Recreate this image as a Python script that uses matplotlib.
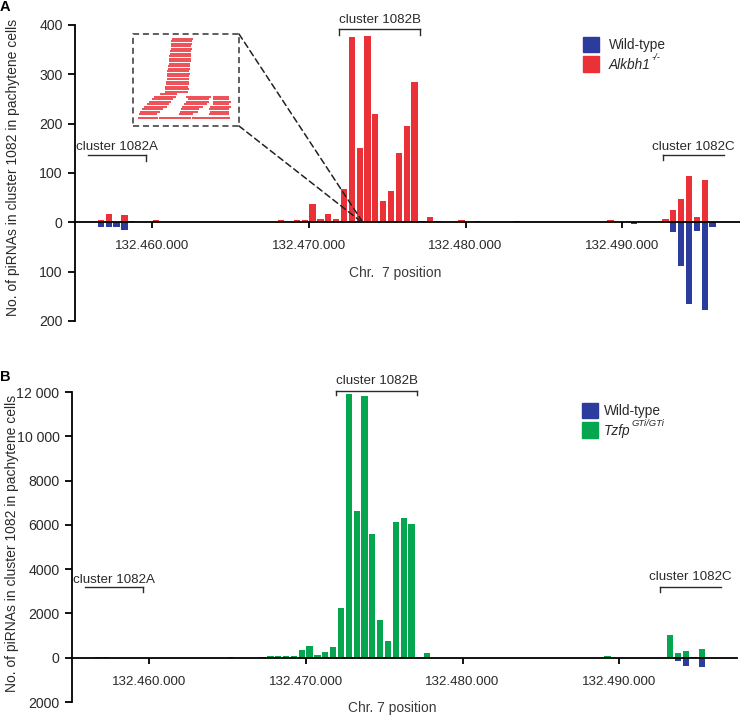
import matplotlib
matplotlib.use("Agg")
import matplotlib.pyplot as plt
from matplotlib.patches import Rectangle, ConnectionPatch

plt.rcParams['font.family'] = ['Liberation Sans', 'DejaVu Sans']

# ---------------- data ----------------
# Panel A: Alkbh1-/- (red, up) and wild-type (blue, down); bin centres in bp on chr 7
a_mut_pos = [132456750, 132457250, 132458250, 132458750, 132460250,
             132468250, 132469250, 132469750, 132470250, 132470750, 132471250,
             132471750, 132472250, 132472750, 132473250, 132473750, 132474250,
             132474750, 132475250, 132475750, 132476250, 132476750, 132477250,
             132477750, 132478250, 132479750, 132480750, 132481750, 132483250,
             132485250, 132486750, 132489250,
             132492750, 132493250, 132493750, 132494250, 132494750, 132495250]
a_mut_val = [5, 16, 14, 2, 5,
             4, 5, 5, 38, 7, 16,
             7, 68, 375, 151, 377, 219,
             44, 64, 140, 196, 284, 3,
             10, 2, 5, 3, 1, 2,
             1, 1, 5,
             7, 24, 48, 94, 11, 86]
a_wt_pos = [132456750, 132457250, 132457750, 132458250, 132490750,
            132493250, 132493750, 132494250, 132494750, 132495250, 132495750]
a_wt_val = [10, 10, 10, 16, 3,
            20, 88, 166, 17, 177, 9]

# Panel B: Tzfp GTi/GTi (green, up) and wild-type (blue, down)
b_mut_pos = [132456750, 132457250, 132465250,
             132467250, 132467750, 132468250, 132468750, 132469250, 132469750,
             132470250, 132470750, 132471250, 132471750, 132472250, 132472750,
             132473250, 132473750, 132474250, 132474750, 132475250, 132475750,
             132476250, 132476750, 132477750, 132489250,
             132493250, 132493750, 132494250, 132494750, 132495250]
b_mut_val = [20, 20, 30,
             50, 70, 80, 80, 100, 370,
             525, 130, 240, 465, 2240, 11930,
             6640, 11820, 5570, 1700, 750, 6140,
             6320, 6020, 226, 60,
             1020, 200, 300, 30, 376]
b_wt_pos = [132493750, 132494250, 132495250]
b_wt_val = [135, 376, 436]

xtick_pos = [132460000, 132470000, 132480000, 132490000]
xtick_labels = ['132.460.000', '132.470.000', '132.480.000', '132.490.000']
a_ytick_pos = [-200, -100, 0, 100, 200, 300, 400]
a_ytick_labels = ['200', '100', '0', '100', '200', '300', '400']
b_ytick_pos = [-2000, 0, 2000, 4000, 6000, 8000, 10000, 12000]
b_ytick_labels = ['2000', '0', '2000', '4000', '6000', '8000', '10 000', '12 000']

clusters = ['cluster 1082A', 'cluster 1082B', 'cluster 1082C']
cluster_start = [132455900, 132471950, 132492600]
cluster_end = [132459650, 132477100, 132496500]

# inset: schematic stacked reads (row, start, end) in inset units
inset_row = [15, 22, 30, 37, 45, 52, 60, 67, 75, 82, 90, 97, 105, 112, 120, 127,
             135, 142, 150, 157, 165, 172,
             180, 187, 187, 187, 195, 195, 195, 202, 202, 202, 210, 210, 210,
             217, 217, 217, 225, 225, 225, 232, 232, 232, 240, 240, 240,
             252, 252, 252, 252]
inset_x0 = [118, 116, 115, 114, 114, 112, 112, 110, 110, 108, 108, 106, 106, 104, 104, 102,
            102, 100, 100, 98, 97, 96,
            82, 62, 160, 242, 56, 165, 242, 48, 160, 242, 42, 155, 240,
            32, 147, 232, 27, 145, 230, 22, 142, 232, 18, 140, 228,
            14, 77, 178, 232]
inset_x1 = [180, 178, 178, 176, 178, 176, 175, 176, 174, 175, 172, 173, 172, 170, 172, 170,
            168, 170, 168, 166, 168, 165,
            132, 130, 235, 290, 120, 230, 290, 116, 228, 296, 110, 222, 290,
            102, 210, 296, 92, 200, 290, 82, 195, 290, 72, 180, 290,
            76, 176, 232, 292]

legend_a = ['Wild-type', 'Alkbh1', '-/-']
legend_b = ['Wild-type', 'Tzfp', 'GTi/GTi']

# ---------------- style ----------------
BLUE = '#2c3c9c'
RED = '#ea3138'
GREEN = '#06a550'
TXT = '#2a2a2a'
FS = 9.6
YLFS = 10.0
W, H = 740, 715
XLIM = (132455100, 132497500)
BAR_W = 400


def fx(px):
    return px / W


def fy(py):
    return 1 - py / H


fig = plt.figure(figsize=(W / 100, H / 100), dpi=100)


def setup_axes(rect_px, ylim, ytp, ytl):
    l, t, r, b = rect_px
    ax = fig.add_axes([fx(l), fy(b), (r - l) / W, (b - t) / H])
    ax.set_xlim(*XLIM)
    ax.set_ylim(*ylim)
    for s in ['top', 'right']:
        ax.spines[s].set_visible(False)
    ax.spines['bottom'].set_position(('data', 0))
    ax.spines['bottom'].set_linewidth(1.3)
    ax.spines['left'].set_linewidth(1.3)
    ax.spines['bottom'].set_zorder(5)
    ax.set_xticks(xtick_pos)
    ax.set_xticklabels(xtick_labels)
    ax.set_yticks(ytp)
    ax.set_yticklabels(ytl)
    ax.tick_params(axis='x', direction='out', length=4, width=1.3, pad=9,
                   labelsize=FS, labelcolor=TXT)
    ax.tick_params(axis='y', direction='out', length=5, width=1.3, pad=4,
                   labelsize=FS + 0.6, labelcolor=TXT)
    ax.patch.set_alpha(0)
    return ax


def brackets(ax, ylev, ydrop, ytext):
    for i, name in enumerate(clusters):
        x0, x1 = cluster_start[i], cluster_end[i]
        ax.plot([x0, x1], [ylev[i], ylev[i]], color=TXT, lw=1.0, clip_on=False)
        if i in (0, 1):
            ax.plot([x1, x1], [ylev[i], ydrop[i]], color=TXT, lw=1.0, clip_on=False)
        if i in (1, 2):
            ax.plot([x0, x0], [ylev[i], ydrop[i]], color=TXT, lw=1.0, clip_on=False)
        ax.text((x0 + x1) / 2, ytext[i], name, ha='center', va='center',
                fontsize=FS, color=TXT, clip_on=False)


def legend(x_sq, y_top, x_txt, colors, labels):
    # two colour squares with labels; second label italic with superscript
    fig.patches.append(Rectangle((fx(x_sq), fy(y_top + 15)), 16 / W, 15 / H,
                                 transform=fig.transFigure, color=colors[0], figure=fig))
    fig.patches.append(Rectangle((fx(x_sq), fy(y_top + 35)), 16 / W, 16 / H,
                                 transform=fig.transFigure, color=colors[1], figure=fig))
    fig.text(fx(x_txt), fy(y_top + 8), labels[0], fontsize=FS + 0.2, va='center', color=TXT)
    t = fig.text(fx(x_txt), fy(y_top + 28), labels[1], fontsize=FS + 0.2, va='center',
                 color=TXT, style='italic')
    plt.annotate(labels[2], xy=(1, 0.68), xycoords=t, xytext=(0.6, 0),
                 textcoords='offset points', fontsize=6.8, style='italic',
                 color=TXT, va='bottom', ha='left', annotation_clip=False)


# ---------------- panel A ----------------
axA = setup_axes((75, 25, 740, 321), (-200, 400), a_ytick_pos, a_ytick_labels)
axA.bar(a_mut_pos, a_mut_val, width=BAR_W, color=RED, zorder=2)
axA.bar(a_wt_pos, [-v for v in a_wt_val], width=BAR_W, color=BLUE, zorder=2)
brackets(axA, [137, 392, 137], [124, 380, 126], [153, 410, 153])
fig.text(fx(395), fy(273), 'Chr.  7 position', ha='center', va='center',
         fontsize=FS + 0.3, color='#3a3a3a')
fig.text(fx(13), fy(167), 'No. of piRNAs in cluster 1082 in pachytene cells',
         rotation=90, ha='center', va='center', fontsize=YLFS, color=TXT)
fig.text(fx(0), fy(7), 'A', fontweight='bold', fontsize=10.5, ha='left', va='center')
legend(583, 37, 609, [BLUE, RED], legend_a)

# inset
axI = fig.add_axes([fx(133), fy(126), 106 / W, 92 / H])
axI.set_xlim(0, 320)
axI.set_ylim(275, 0)
axI.axis('off')
axI.add_patch(Rectangle((0, 0), 1, 1, transform=axI.transAxes, fill=False,
                        ls=(0, (4, 2.5)), lw=1.1, ec='#333333', clip_on=False))
axI.hlines(inset_row, inset_x0, inset_x1, colors=RED, lw=1.2)
for (ya, xb) in [(1, 132473450), (0, 132473400)]:
    con = ConnectionPatch(xyA=(1, ya), coordsA=axI.transAxes, xyB=(xb, 0),
                          coordsB=axA.transData, ls=(0, (4, 2.5)), lw=1.1,
                          color='#222222', zorder=6)
    fig.add_artist(con)

# ---------------- panel B ----------------
axB = setup_axes((72, 392, 737, 702), (-2000, 12000), b_ytick_pos, b_ytick_labels)
axB.bar(b_mut_pos, b_mut_val, width=BAR_W, color=GREEN, zorder=2)
axB.bar(b_wt_pos, [-v for v in b_wt_val], width=BAR_W, color=BLUE, zorder=2)
brackets(axB, [3200, 12030, 3200], [2960, 11850, 2980], [3520, 12490, 3640])
fig.text(fx(392), fy(708), 'Chr. 7 position', ha='center', va='center',
         fontsize=FS + 0.3, color='#3a3a3a')
fig.text(fx(12), fy(543), 'No. of piRNAs in cluster 1082 in pachytene cells',
         rotation=90, ha='center', va='center', fontsize=YLFS, color=TXT)
fig.text(fx(0), fy(377), 'B', fontweight='bold', fontsize=10.5, ha='left', va='center')
legend(582, 403, 604, [BLUE, GREEN], legend_b)

fig.savefig('out.png', dpi=100)
